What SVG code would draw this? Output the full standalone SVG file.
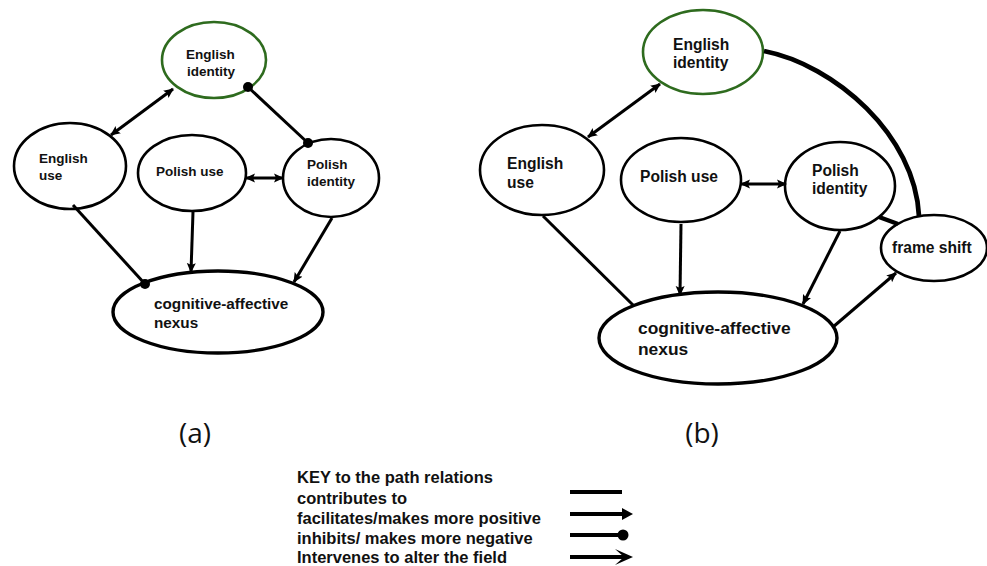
<svg xmlns="http://www.w3.org/2000/svg" width="987" height="566" viewBox="0 0 987 566">
<style>
.n{fill:#fff;stroke:#000;stroke-width:2.6}
.g{stroke:#2e6b1e}
.nx{stroke-width:3.4}
.ta{font-family:"Liberation Sans",Arial,sans-serif;font-weight:bold;font-size:13.5px;fill:#111}
.tb{font-family:"Liberation Sans",Arial,sans-serif;font-weight:bold;font-size:15.6px;fill:#111}
.c{stroke:#000;stroke-width:3;fill:none}
.k{font-family:"Liberation Sans",Arial,sans-serif;font-weight:bold;font-size:16.5px;fill:#111}
.lab{font-family:"Open Sans","DejaVu Sans",sans-serif;font-size:28px;fill:#111}
</style>
<defs>
<marker id="arr" viewBox="0 0 10 10" refX="9" refY="5" markerWidth="10" markerHeight="10" markerUnits="userSpaceOnUse" orient="auto-start-reverse"><path d="M0,0.5 L10,5 L0,9.5 L2,5 z" fill="#000"/></marker>
<marker id="dot" viewBox="0 0 10 10" refX="5" refY="5" markerWidth="10" markerHeight="10" markerUnits="userSpaceOnUse"><circle cx="5" cy="5" r="5" fill="#000"/></marker>
</defs>
<rect width="987" height="566" fill="#fff"/>

<!-- (a) nodes -->
<g id="a-english-identity">
<ellipse class="n g" cx="214" cy="60" rx="52" ry="38"/>
<text class="ta" x="186" y="59">English</text>
<text class="ta" x="187" y="76">identity</text>
</g>
<g id="a-english-use">
<ellipse class="n" cx="70" cy="166" rx="56" ry="43"/>
<text class="ta" x="39" y="163">English</text>
<text class="ta" x="39" y="180">use</text>
</g>
<g id="a-polish-use">
<ellipse class="n" cx="192" cy="173" rx="54" ry="38"/>
<text class="ta" x="156" y="176">Polish use</text>
</g>
<g id="a-polish-identity">
<ellipse class="n" cx="331" cy="178" rx="48" ry="39"/>
<text class="ta" x="307" y="169">Polish</text>
<text class="ta" x="307" y="186">identity</text>
</g>
<g id="a-nexus">
<ellipse class="n nx" cx="218" cy="312" rx="105" ry="41"/>
<text class="ta" style="font-size:15.3px" x="154" y="309">cognitive-affective</text>
<text class="ta" style="font-size:15.3px" x="154" y="328">nexus</text>
</g>

<!-- (b) nodes -->
<g id="b-english-identity">
<ellipse class="n g" cx="703" cy="52" rx="60" ry="42"/>
<text class="tb" x="673" y="50">English</text>
<text class="tb" x="673" y="68">identity</text>
</g>
<g id="b-english-use">
<ellipse class="n" cx="542" cy="170" rx="62" ry="45"/>
<text class="tb" x="507" y="169">English</text>
<text class="tb" x="507" y="188">use</text>
</g>
<g id="b-polish-use">
<ellipse class="n" cx="681" cy="180" rx="60" ry="42"/>
<text class="tb" x="640" y="182">Polish use</text>
</g>
<g id="b-polish-identity">
<ellipse class="n" cx="840" cy="186" rx="55" ry="44"/>
<text class="tb" x="812" y="176">Polish</text>
<text class="tb" x="812" y="194">identity</text>
</g>
<g id="b-frame-shift">
<ellipse class="n" cx="934" cy="248" rx="53" ry="33"/>
<text class="tb" x="892" y="253">frame shift</text>
</g>
<g id="b-nexus">
<ellipse class="n nx" cx="718" cy="338" rx="119" ry="46"/>
<text class="tb" style="font-size:17.4px" x="638" y="334">cognitive-affective</text>
<text class="tb" style="font-size:17.4px" x="638" y="355">nexus</text>
</g>

<!-- connectors -->
<g id="connectors">
<!-- (a) -->
<line class="c" x1="111" y1="135" x2="173" y2="89" marker-start="url(#arr)" marker-end="url(#arr)"/>
<line class="c" x1="248" y1="87" x2="308" y2="143" marker-start="url(#dot)" marker-end="url(#dot)"/>
<line class="c" x1="246" y1="178" x2="283" y2="178" marker-start="url(#arr)" marker-end="url(#arr)"/>
<line class="c" x1="73" y1="205" x2="145" y2="284" marker-end="url(#dot)"/>
<line class="c" x1="193" y1="212" x2="191" y2="272" marker-end="url(#arr)"/>
<line class="c" x1="332" y1="218" x2="294" y2="282" marker-end="url(#arr)"/>
<!-- (b) -->
<line class="c" x1="588" y1="137" x2="660" y2="84" marker-start="url(#arr)" marker-end="url(#arr)"/>
<path class="c" style="stroke-width:4.8" d="M764,51 C835,65 915,135 919,216"/>
<line class="c" x1="741" y1="184" x2="786" y2="184" marker-start="url(#arr)" marker-end="url(#arr)"/>
<line class="c" style="stroke-width:4.5" x1="879" y1="217" x2="898" y2="224"/>
<line class="c" x1="543" y1="216" x2="633" y2="305"/>
<line class="c" x1="681" y1="224" x2="680" y2="295" marker-end="url(#arr)"/>
<line class="c" x1="840" y1="231" x2="803" y2="304" marker-end="url(#arr)"/>
<line class="c" x1="833" y1="327" x2="896" y2="273" marker-end="url(#arr)"/>
</g>

<!-- panel labels -->
<text class="lab" x="195" y="443" text-anchor="middle">(a)</text>
<text class="lab" x="702" y="443" text-anchor="middle">(b)</text>

<!-- key -->
<g id="key">
<text class="k" x="297" y="483">KEY to the path relations</text>
<text class="k" x="297" y="504">contributes to</text>
<text class="k" x="297" y="524">facilitates/makes more positive</text>
<text class="k" x="297" y="544">inhibits/ makes more negative</text>
<text class="k" x="297" y="563">Intervenes to alter the field</text>
<line x1="570" y1="492" x2="622" y2="492" stroke="#000" stroke-width="4"/>
<line x1="570" y1="514" x2="624" y2="514" stroke="#000" stroke-width="4"/>
<path d="M622,508 L633,514 L622,520 z" fill="#000"/>
<line x1="570" y1="535" x2="622" y2="535" stroke="#000" stroke-width="4"/>
<circle cx="623" cy="535" r="5.5" fill="#000"/>
<line x1="570" y1="557" x2="628" y2="557" stroke="#000" stroke-width="4"/>
<path d="M615,549 L633,557 L615,565 L624,557 z" fill="#000"/>
</g>
</svg>
